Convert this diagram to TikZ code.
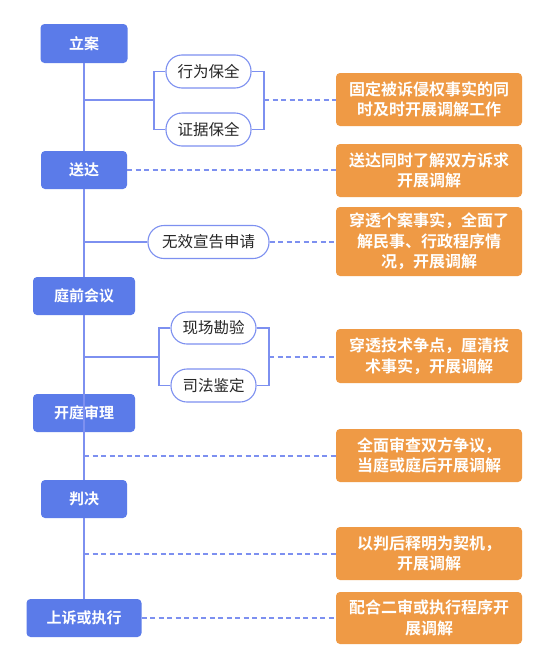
\documentclass[tikz,border=0pt]{standalone}
\usepackage{fontspec}
\setmainfont{Noto Sans CJK SC}[BoldFont={Noto Sans CJK SC Bold}]
\definecolor{stepblue}{HTML}{5B7BE9}
\definecolor{linkblue}{HTML}{7D90F0}
\definecolor{noteorange}{HTML}{EF9A45}
\tikzset{
  stage/.style={draw=none, fill=stepblue, rounded corners=4pt, text=white,
    font=\bfseries\fontsize{15}{18}\selectfont, minimum height=38pt, inner sep=0pt},
  pill/.style={draw=linkblue, line width=1.1pt, fill=white, rounded corners=16pt,
    font=\fontsize{15.5}{18}\selectfont, minimum height=33pt, inner sep=0pt, text=black!85},
  note/.style={fill=noteorange, rounded corners=4pt, text=white, align=center,
    font=\bfseries\fontsize{16}{20.5}\selectfont, minimum width=186pt, inner sep=0pt},
  trunk/.style={draw=linkblue, line width=1.4pt},
  branch/.style={draw=linkblue, line width=1.2pt},
  dashlink/.style={draw=linkblue, line width=1.3pt, dash pattern=on 5pt off 3.5pt}
}
\begin{document}
\begin{tikzpicture}[x=1pt,y=-1pt]
\useasboundingbox[fill=white] (0,0) rectangle (550,672);

% stage boxes
\node[stage, minimum width=87pt, minimum height=39pt] (b1) at (84,43.5) {立案};
\node[stage, minimum width=86pt] (b2) at (84,170) {送达};
\node[stage, minimum width=102pt] (b3) at (84,296) {庭前会议};
\node[stage, minimum width=102pt] (b4) at (84,413) {开庭审理};
\node[stage, minimum width=86pt] (b5) at (84,499) {判决};
\node[stage, minimum width=115pt] (b6) at (84,618) {上诉或执行};

% trunk
\draw[trunk] (b1.south) -- (b2.north);
\draw[trunk] (b2.south) -- (b3.north);
\draw[trunk] (b3.south) -- (b5.north);
\draw[trunk] (b5.south) -- (b6.north);

% pills
\node[pill, minimum width=85pt] (p1) at (208.5,71.5) {行为保全};
\node[pill, minimum width=85pt] (p2) at (208.5,129.5) {证据保全};
\node[pill, minimum width=121pt] (p3) at (208.5,242) {无效宣告申请};
\node[pill, minimum width=85pt, minimum height=32pt] (p4) at (213.5,328) {现场勘验};
\node[pill, minimum width=85pt] (p5) at (213.5,385.5) {司法鉴定};

% notes
\node[note, minimum height=53pt] (o1) at (429,99.5) {固定被诉侵权事实的同\\时及时开展调解工作};
\node[note, minimum height=53pt] (o2) at (429,170.5) {送达同时了解双方诉求\\开展调解};
\node[note, minimum height=69pt] (o3) at (429,241.5) {穿透个案事实，全面了\\解民事、行政程序情\\况，开展调解};
\node[note, minimum height=54pt] (o4) at (429,356) {穿透技术争点，厘清技\\术事实，开展调解};
\node[note, minimum height=53pt] (o5) at (429,455.5) {全面审查双方争议，\\当庭或庭后开展调解};
\node[note, minimum height=53pt] (o6) at (429,553.5) {以判后释明为契机，\\开展调解};
\node[note, minimum height=52pt] (o7) at (429,618) {配合二审或执行程序开\\展调解};

% junction coordinates
\coordinate (j1) at (84,100);
\coordinate (k1) at (154,100);
\coordinate (r1) at (264,100);
\coordinate (j3) at (84,242);
\coordinate (j4) at (84,357);
\coordinate (k4) at (159,357);
\coordinate (r4) at (269,357);
\coordinate (j5) at (84,456);
\coordinate (j6) at (84,554);

% branches
\draw[branch] (j1) -- (k1);
\draw[branch] (p1.west) -| (k1) |- (p2.west);
\draw[branch] (p1.east) -| (r1) |- (p2.east);
\draw[branch] (j3) -- (p3.west);
\draw[branch] (j4) -- (k4);
\draw[branch] (p4.west) -| (k4) |- (p5.west);
\draw[branch] (p4.east) -| (r4) |- (p5.east);

% dashed links to notes
\draw[dashlink] (r1) -- (r1 -| o1.west);
\draw[dashlink] (b2.east) -- (b2.east -| o2.west);
\draw[dashlink] (p3.east) -- (p3.east -| o3.west);
\draw[dashlink] (r4) -- (r4 -| o4.west);
\draw[dashlink] (j5) -- (j5 -| o5.west);
\draw[dashlink] (j6) -- (j6 -| o6.west);
\draw[dashlink] (b6.east) -- (b6.east -| o7.west);
\end{tikzpicture}
\end{document}
